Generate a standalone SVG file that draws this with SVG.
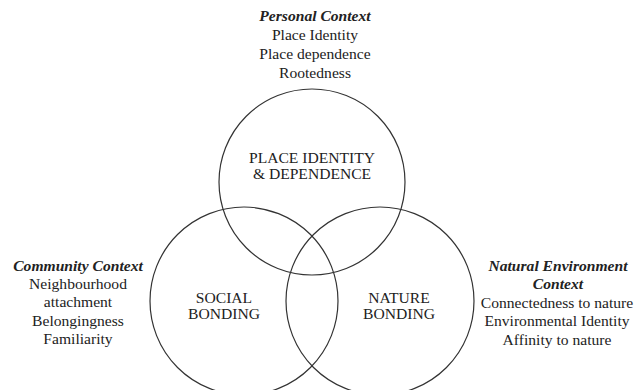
<svg xmlns="http://www.w3.org/2000/svg" width="634" height="390" viewBox="0 0 634 390">
<style>
text{font-family:"Liberation Serif","Times New Roman",serif;font-size:15.6px;fill:#222;text-anchor:middle}
.h{font-weight:bold;font-style:italic}
.c{fill:none;stroke:#333;stroke-width:1.2}
</style>
<rect width="634" height="390" fill="#fff"/>
<g id="place">
<circle class="c" cx="312" cy="182" r="93"/>
<text x="312" y="163">PLACE IDENTITY</text>
<text x="312" y="179">&amp; DEPENDENCE</text>
</g>
<g id="social">
<circle class="c" cx="244" cy="301" r="94"/>
<text x="224" y="303">SOCIAL</text>
<text x="224" y="319">BONDING</text>
</g>
<g id="nature">
<circle class="c" cx="380" cy="301" r="94"/>
<text x="399" y="303">NATURE</text>
<text x="399" y="319">BONDING</text>
</g>
<g id="personal">
<text class="h" x="315" y="21">Personal Context</text>
<text x="315" y="40">Place Identity</text>
<text x="315" y="59">Place dependence</text>
<text x="315" y="78">Rootedness</text>
</g>
<g id="community">
<text class="h" x="78" y="271">Community Context</text>
<text x="78" y="289">Neighbourhood</text>
<text x="78" y="307">attachment</text>
<text x="78" y="326">Belongingness</text>
<text x="78" y="344">Familiarity</text>
</g>
<g id="environment">
<text class="h" x="558" y="271">Natural Environment</text>
<text class="h" x="558" y="289">Context</text>
<text x="557" y="308">Connectedness to nature</text>
<text x="557" y="326">Environmental Identity</text>
<text x="557" y="345">Affinity to nature</text>
</g>
<g id="connectors"></g>
</svg>
